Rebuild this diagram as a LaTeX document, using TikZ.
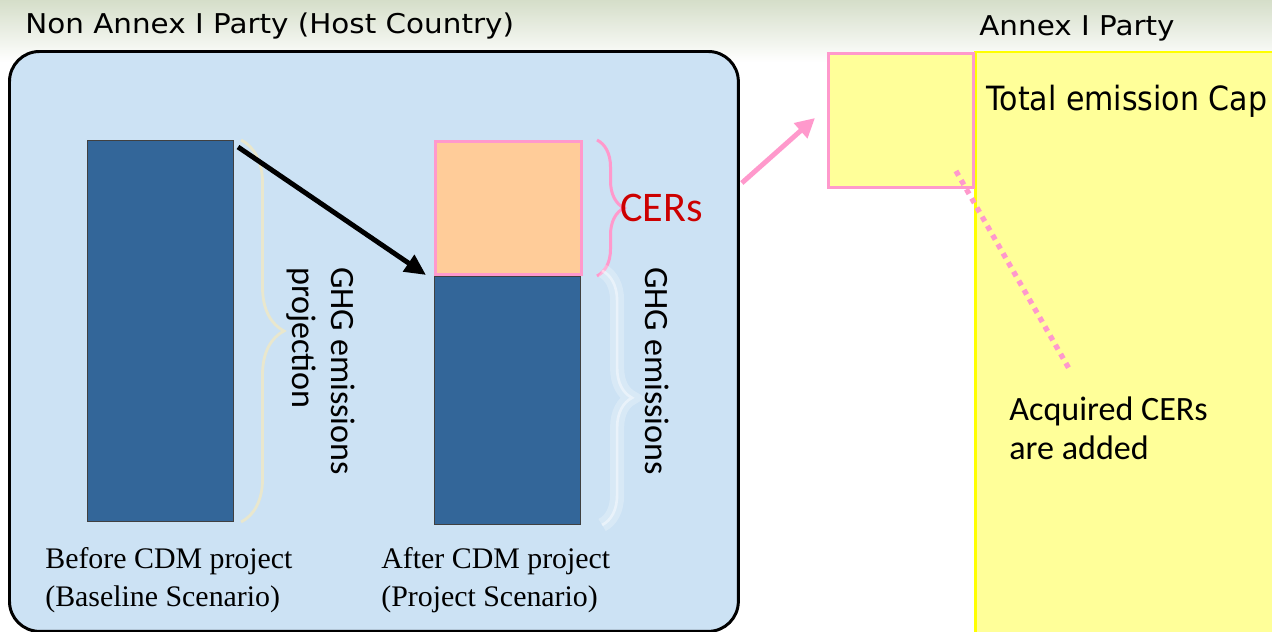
\documentclass[tikz,border=0pt]{standalone}
\usepackage{fontspec}
\setmainfont{DejaVu Sans}[FakeStretch=0.9]
\newfontfamily\ttlfont{DejaVu Sans}[FakeStretch=1.08]
\newfontfamily\calfont{Carlito}
\newfontfamily\capfont{Liberation Serif}
\usetikzlibrary{positioning,decorations.pathreplacing,arrows.meta}

\definecolor{hostblue}{HTML}{CCE2F4}
\definecolor{barblue}{HTML}{336699}
\definecolor{cerorange}{HTML}{FFCC99}
\definecolor{cerpink}{HTML}{FF99CC}
\definecolor{capyellow}{HTML}{FFFF99}
\definecolor{capborder}{HTML}{FFFF00}
\definecolor{cerred}{HTML}{CC0000}
\definecolor{topband}{HTML}{D5DEC9}

\tikzset{
    ttl/.style={font=\ttlfont\fontsize{15.5}{18}\selectfont, inner sep=0pt},
    cal/.style={font=\calfont\fontsize{19.4}{22}\selectfont, inner sep=0pt},
    tms/.style={font=\capfont\fontsize{17}{22}\selectfont, inner sep=0pt, align=left},
    bar/.style={fill=barblue, draw=black!75, line width=.6pt, minimum width=2.92cm, inner sep=0pt, anchor=north west},
    brc/.style={decorate, decoration={brace, amplitude=#1}},
}

\begin{document}
\begin{tikzpicture}[x=0.02cm, y=-0.02cm]
    \useasboundingbox (0, 0) rectangle (1272, 632);
    \clip (0, 0) rectangle (1272, 632);
    \shade[top color=topband, bottom color=white] (0, 0) rectangle (1272, 62);

    % host country
    \node[draw, line width=1.7pt, fill=hostblue, rounded corners=0.6cm, minimum width=14.58cm, minimum height=11.6cm, anchor=north west] (host) at (8, 50) {};
    \node[ttl, anchor=west] (hosttitle) at (25, 26) {Non Annex I Party (Host Country)};

    \node[bar, minimum height=7.62cm] (before) at (87, 140) {};
    \node[bar, fill=cerorange, draw=cerpink, line width=1.7pt, minimum height=2.66cm] (cers) at (434, 140) {};
    \node[bar, minimum height=4.96cm] (after) at (cers.south west) {};

    \draw[brc=0.86cm, color=white!85!yellow!80!gray, line width=1.6pt] ([xshift=4]before.north east) -- ([xshift=4]before.south east);
    \draw[brc=0.54cm, color=cerpink, line width=1.7pt] ([xshift=8]cers.north east) -- ([xshift=8]cers.south east);
    \draw[brc=0.6cm, color=white, opacity=.25, line width=8pt] ([xshift=12, yshift=3]after.north east) -- ([xshift=12]after.south east);
    \draw[brc=0.6cm, color=white, opacity=.45, line width=1.5pt] ([xshift=12, yshift=3]after.north east) -- ([xshift=12]after.south east);

    \node[cal, font=\calfont\fontsize{24}{26}\selectfont, text=cerred, right=0.74cm of cers] (cerlbl) {CERs};
    \node[cal, rotate=-90, align=left] (proj) at (321, 371) {GHG emissions\\projection};
    \node[cal, rotate=-90] (emis) at (657, 371) {GHG emissions};

    \node[tms, anchor=west] (beforelbl) at (45, 580) {Before CDM project\\(Baseline Scenario)};
    \node[tms, anchor=west] (afterlbl) at (381, 580) {After CDM project\\(Project Scenario)};

    \draw[line width=2.8pt, -{Triangle[length=12pt, width=11pt]}] ([shift={(4, 7)}]before.north east) -- ([shift={(-8, -1)}]cers.south west);

    % annex I party
    \draw[line width=1.7pt, draw=capborder, fill=capyellow] (975, 52) rectangle (1300, 660);
    \node[ttl, anchor=west] (annextitle) at (979, 28) {Annex I Party};
    \node[font=\fontsize{19}{22}\selectfont, inner sep=0pt, anchor=west] (cap) at (986, 101) {Total emission Cap};
    \node[draw=cerpink, line width=1.7pt, fill=capyellow, minimum width=2.9cm, minimum height=2.68cm, anchor=north west] (small) at (827, 52) {};

    \draw[cerpink, line width=2.8pt, -{Triangle[length=11pt, width=11pt]}] ([shift={(2, 133)}]host.north east) -- ([shift={(-12, 66)}]small.north west);

    \node[cal, align=left, anchor=west] (acq) at (1009, 428) {Acquired CERs\\are added};
    \draw[cerpink, line width=3pt, dash pattern=on 3pt off 3pt] ([shift={(-19, -18)}]small.south east) -- ([shift={(61, -26)}]acq.west |- acq.north);
\end{tikzpicture}
\end{document}
